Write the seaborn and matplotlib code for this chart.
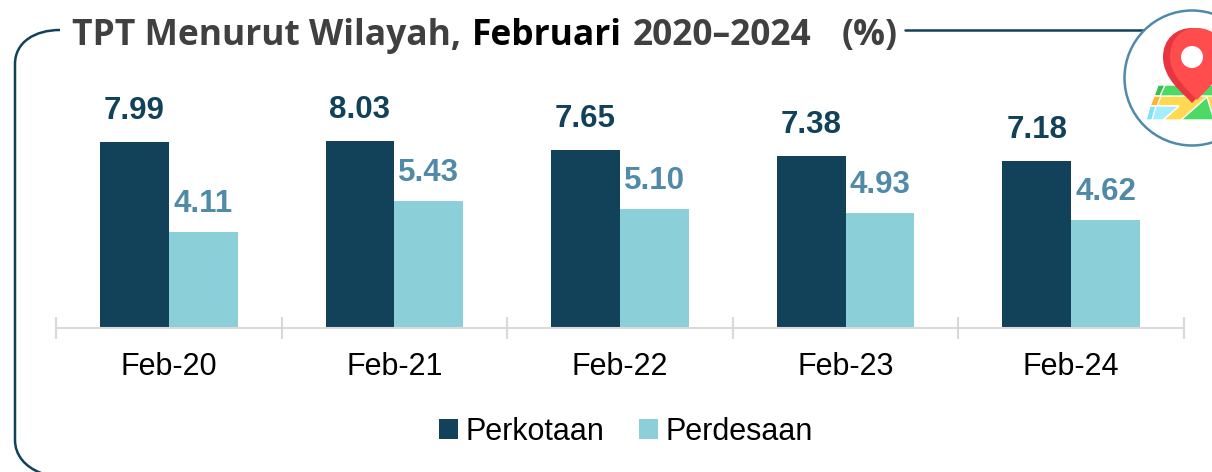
import matplotlib
matplotlib.use("Agg")
import matplotlib.pyplot as plt
import pandas as pd
import seaborn as sns
from matplotlib.patches import Circle, PathPatch, Polygon
from matplotlib.path import Path

# data
periods = ["Feb-20", "Feb-21", "Feb-22", "Feb-23", "Feb-24"]
perkotaan = [7.99, 8.03, 7.65, 7.38, 7.18]
perdesaan = [4.11, 5.43, 5.10, 4.93, 4.62]

NAVY = "#12415a"
TEAL = "#8bd0d9"
LABEL_BLUE = "#4f8aa8"
GREY = "#404040"
W, H = 1212, 472

sns.set_theme(style="white")
plt.rcParams["font.family"] = ["Liberation Sans", "DejaVu Sans"]

df = pd.DataFrame({
    "period": periods * 2,
    "wilayah": ["Perkotaan"] * 5 + ["Perdesaan"] * 5,
    "tpt": perkotaan + perdesaan,
})

fig = plt.figure(figsize=(W / 100, H / 100), dpi=100)
fig.patch.set_facecolor("white")

# axes placed on the pixel grid of the reference
ax = fig.add_axes([56 / W, 1 - 328 / H, (1184 - 56) / W, (328 - 60) / H])
sns.barplot(data=df, x="period", y="tpt", hue="wilayah", palette=[NAVY, TEAL],
            width=0.61, gap=0, saturation=1, linewidth=0, ax=ax)
ax.set_xlim(-0.5, 4.5)
ax.set_ylim(0, 268 / 23.3)
ax.patch.set_alpha(0)
ax.set_xlabel("")
ax.set_ylabel("")
ax.set_yticks([])
sns.despine(ax=ax, left=True)
ax.spines["bottom"].set_color("#d9d9d9")
ax.spines["bottom"].set_linewidth(1.5)

# boundaries between categories get the ticks
ax.set_xticks([i - 0.5 for i in range(6)], minor=True)
ax.tick_params(axis="x", which="minor", bottom=True, direction="inout", length=16.5,
               width=1.5, color="#d9d9d9")
ax.tick_params(axis="x", which="major", bottom=False, labelsize=22, labelcolor="black", pad=11.5)

for cont, col, pad in zip(ax.containers, [NAVY, LABEL_BLUE], [11.5, 9.5]):
    ax.bar_label(cont, fmt="%.2f", padding=pad, fontsize=22.5, fontweight="bold", color=col)

leg = ax.legend(loc="upper left", bbox_to_anchor=(439 / W, 1 - 417 / H), bbox_transform=fig.transFigure,
                ncol=2, frameon=False, fontsize=22, handlelength=0.62, handleheight=0.62,
                handletextpad=0.24, columnspacing=1.15, borderpad=0, borderaxespad=0)
for t in leg.get_texts():
    t.set_color("black")

# overlay in image pixels for the frame, title and icon
ov = fig.add_axes([0, 0, 1, 1], zorder=5)
ov.set_xlim(0, W)
ov.set_ylim(H, 0)
ov.axis("off")

frame = Path([(60, 30), (35, 30), (15, 42), (15, 64), (15, 440), (15, 455), (25, 467), (41, 473)],
             [Path.MOVETO, Path.CURVE4, Path.CURVE4, Path.CURVE4, Path.LINETO,
              Path.CURVE4, Path.CURVE4, Path.CURVE4])
ov.add_patch(PathPatch(frame, fill=False, ec=NAVY, lw=1.8))
ov.plot([905, 1146], [30, 30], color=NAVY, lw=1.8, zorder=1)

title_font = dict(family="Open Sans", fontweight="bold", fontsize=25.5, va="center", ha="left")
ov.text(72, 36, "TPT Menurut Wilayah,", color=GREY, **title_font)
ov.text(472, 36, "Februari", color="black", **title_font)
ov.text(633, 36, "2020–2024", color=GREY, **title_font)
ov.text(842, 36, "(%)", color=GREY, **title_font)

# map pin icon
ov.add_patch(Circle((1192, 78), 67.5, fc="white", ec=LABEL_BLUE, lw=1.8, zorder=2))
ov.add_patch(Polygon([(1146, 120), (1158, 85), (1240, 85), (1240, 120)], fc="#4cd964", zorder=3))
ov.add_patch(Polygon([(1158, 85), (1165, 85), (1160, 96), (1154, 96)], fc="#35c04f", zorder=3))
ov.add_patch(Polygon([(1154, 96), (1240, 96), (1240, 120), (1163, 120), (1179, 106), (1150, 106)],
                     fc="#ffd950", zorder=3))
ov.add_patch(Polygon([(1154, 96), (1161, 96), (1157, 106), (1150, 106)], fc="#ffb52e", zorder=3))
ov.add_patch(Polygon([(1146, 120), (1150, 106), (1179, 106), (1163, 120)], fc="#a6ecff", zorder=3))
ov.add_patch(Polygon([(1146, 120), (1150, 106), (1156, 106), (1152, 120)], fc="#7fe3f5", zorder=3))
ov.add_patch(Polygon([(1181, 120), (1207, 97), (1214, 120)], fc="#4cd964", zorder=3))


def pin_path(cx, top, half, mid, tip):
    return Path([(cx, tip), (cx - 9, tip - 10), (cx - half, tip - 24), (cx - half, mid),
                 (cx - half, top + 11), (cx - 16, top), (cx, top),
                 (cx + 16, top), (cx + half, top + 11), (cx + half, mid),
                 (cx + half, tip - 24), (cx + 9, tip - 10), (cx, tip)],
                [Path.MOVETO] + [Path.CURVE4] * 12)


ov.add_patch(PathPatch(pin_path(1192, 28, 29, 57, 103), fc="#e8353f", ec="none", zorder=4))
ov.add_patch(PathPatch(pin_path(1197, 28, 27, 57, 100), fc="#ff4c4c", ec="none", zorder=4))
ov.add_patch(Circle((1192, 57), 11, fc="white", ec="none", zorder=5))

fig.savefig("out.png", dpi=100, facecolor="white")
